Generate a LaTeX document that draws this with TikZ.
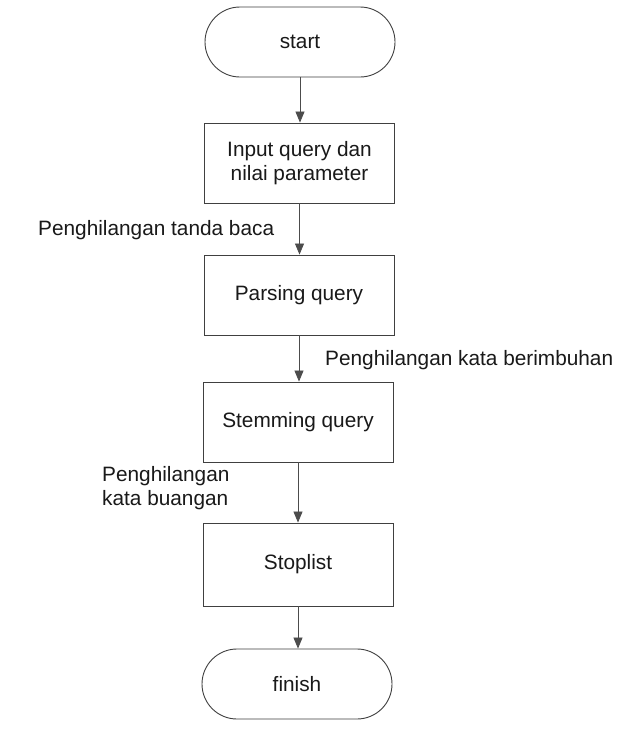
\documentclass[tikz,border=0pt]{standalone}
\usepackage{fontspec}
\setmainfont{Liberation Sans}
\usetikzlibrary{arrows.meta}
\begin{document}
\begin{tikzpicture}[x=1pt,y=-1pt,
  every node/.style={font=\fontsize{20.8}{23.5}\selectfont, text=black!90},
  procbox/.style={draw=black!75, line width=0.9pt, minimum width=190pt, minimum height=80pt, inner sep=0pt, align=center},
  termbox/.style={draw=black!75, line width=0.9pt, rounded corners=35pt, minimum width=190pt, minimum height=70pt, inner sep=0pt},
  flow/.style={draw=black!70, line width=0.8pt, -{Triangle[width=9pt,length=11pt]}},
  note/.style={inner sep=0pt, anchor=base west}]
\useasboundingbox (0,0) rectangle (640,731);
\fill[white] (0,0) rectangle (640,731);

% process chain
\node[termbox] (start) at (300,42) {start};
\node[procbox] (input) at (299.5,163) {Input query dan\\nilai parameter};
\node[procbox] (parse) at (299,295) {Parsing query};
\node[procbox] (stem) at (298,422) {Stemming query};
\node[procbox, minimum height=83pt] (stop) at (298,564.5) {Stoplist};
\node[termbox] (finish) at (297,684) {finish};

% vertical connectors
\draw[flow] (start.south) -- (start.south |- input.north);
\draw[flow] (input.south) -- (input.south |- parse.north);
\draw[flow] (parse.south) -- (parse.south |- stem.north);
\draw[flow] (stem.south) -- (stem.south |- stop.north);
\draw[flow] (stop.south) -- (stop.south |- finish.north);

% step annotations
\node[note] (l1) at (38,235) {Penghilangan tanda baca};
\node[note] (l2) at (325,365) {Penghilangan kata berimbuhan};
\node[inner sep=0pt, anchor=west, align=left] (l3) at (102,488) {Penghilangan\\kata buangan};
\end{tikzpicture}
\end{document}
